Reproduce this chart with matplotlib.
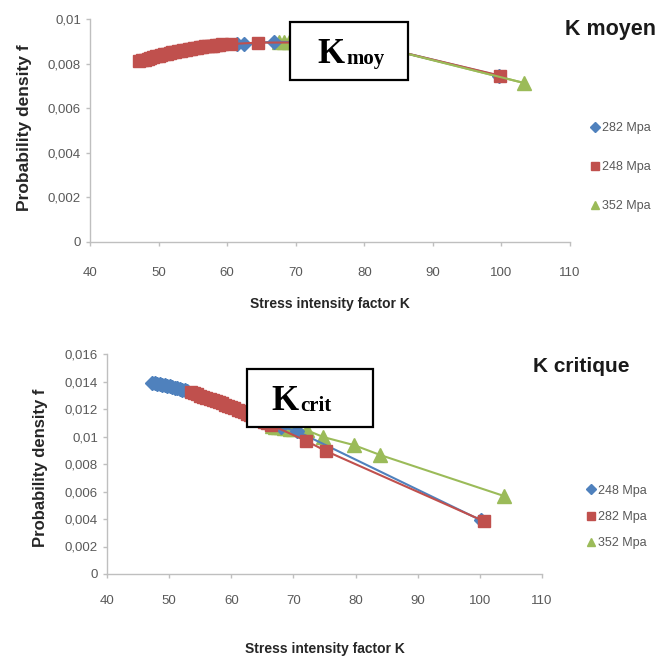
import matplotlib
matplotlib.use("Agg")
import matplotlib.pyplot as plt
from matplotlib.lines import Line2D
from matplotlib.patches import Rectangle
from matplotlib.ticker import FuncFormatter

plt.rcParams['font.family'] = ['Liberation Sans Narrow', 'Liberation Sans', 'DejaVu Sans']

# ---------------- data: top chart (K moyen) ----------------
top_282_K = [61.4, 62.4, 66.8, 72.0, 75.0, 80.3, 83.7, 99.6]
top_282_f = [0.00888, 0.00890, 0.00898, 0.00895, 0.00890, 0.00878, 0.00864, 0.00746]
top_248_K = [47.2, 47.6, 48.0, 48.4, 48.8, 49.2, 49.6, 50.0, 50.4, 50.8, 51.2, 51.6,
             52.0, 52.4, 52.8, 53.2, 53.6, 54.0, 54.4, 54.8, 55.2, 55.6, 56.0, 56.4,
             56.8, 57.2, 57.6, 58.0, 58.4, 58.8, 59.2, 60.6, 64.5, 72.0, 75.0, 80.3,
             83.7, 99.8]
top_248_f = [0.00810, 0.00814, 0.00818, 0.00822, 0.00826, 0.00829, 0.00833, 0.00836,
             0.00839, 0.00842, 0.00845, 0.00848, 0.00851, 0.00853, 0.00856, 0.00858,
             0.00861, 0.00863, 0.00865, 0.00867, 0.00869, 0.00871, 0.00873, 0.00875,
             0.00877, 0.00878, 0.00880, 0.00881, 0.00883, 0.00884, 0.00886, 0.00888,
             0.00894, 0.00895, 0.00890, 0.00878, 0.00864, 0.00746]
top_352_K = [67.6, 68.3, 69.0, 69.7, 72.0, 75.0, 80.3, 83.7, 103.3]
top_352_f = [0.00899, 0.00899, 0.00898, 0.00897, 0.00895, 0.00890, 0.00878, 0.00864, 0.00713]

# ---------------- data: bottom chart (K critique) ----------------
bot_248_K = [47.3, 47.7, 48.1, 48.5, 48.9, 49.3, 49.7, 50.1, 50.5, 50.9, 51.3, 51.7,
             52.1, 52.5, 52.9, 56.0, 60.0, 64.0, 68.0, 70.5, 100.2]
bot_248_f = [0.01389, 0.01386, 0.01383, 0.01380, 0.01376, 0.01372, 0.01368, 0.01364,
             0.01360, 0.01355, 0.01350, 0.01345, 0.01340, 0.01335, 0.01329, 0.01280,
             0.01215, 0.01140, 0.01070, 0.01040, 0.00390]
bot_282_K = [53.5, 54.0, 54.5, 55.0, 55.5, 56.0, 56.5, 57.0, 57.5, 58.0, 58.5, 59.0,
             59.5, 60.0, 60.5, 61.0, 61.5, 62.0, 62.5, 63.0, 63.5, 64.0, 64.6, 65.2,
             65.8, 66.4, 72.1, 75.2, 100.6]
bot_282_f = [0.01322, 0.01314, 0.01306, 0.01298, 0.01290, 0.01282, 0.01274, 0.01266,
             0.01258, 0.01250, 0.01241, 0.01232, 0.01223, 0.01214, 0.01205, 0.01195,
             0.01185, 0.01175, 0.01165, 0.01155, 0.01144, 0.01133, 0.01121, 0.01108,
             0.01096, 0.01084, 0.00967, 0.00895, 0.00385]
bot_352_K = [66.5, 67.0, 67.5, 68.0, 68.5, 69.0, 69.5, 70.0, 72.2, 74.8, 79.7, 84.0, 103.9]
bot_352_f = [0.01075, 0.01072, 0.01069, 0.01066, 0.01063, 0.01060, 0.01057, 0.01054,
             0.01045, 0.00996, 0.00938, 0.00865, 0.00567]

x_ticks = [40, 50, 60, 70, 80, 90, 100, 110]
top_y_ticks = [0, 0.002, 0.004, 0.006, 0.008, 0.01]
bot_y_ticks = [0, 0.002, 0.004, 0.006, 0.008, 0.01, 0.012, 0.014, 0.016]

BLUE = '#4F81BD'
RED = '#C0504D'
GREEN = '#9BBB59'
GRAY = '#595959'

W = H = 660
fig = plt.figure(figsize=(6.6, 6.6), dpi=100)
fig.patch.set_facecolor('white')


def px_axes(left, top, right, bottom):
    return fig.add_axes([left / W, 1 - bottom / H, (right - left) / W, (bottom - top) / H])


def comma_fmt(v, pos):
    if abs(v) < 1e-12:
        return '0'
    s = ('%.3f' % v).rstrip('0').rstrip('.')
    return s.replace('.', ',')


def style_axes(ax, yticks, ymax, xpad):
    ax.set_xlim(40, 110)
    ax.set_ylim(0, ymax)
    ax.set_xticks(x_ticks)
    ax.set_yticks(yticks)
    ax.yaxis.set_major_formatter(FuncFormatter(comma_fmt))
    for s in ['top', 'right']:
        ax.spines[s].set_visible(False)
    for s in ['left', 'bottom']:
        ax.spines[s].set_color('#BFBFBF')
        ax.spines[s].set_linewidth(1.0)
    ax.tick_params(axis='both', colors='#BFBFBF', length=3, width=1,
                   labelcolor=GRAY, labelsize=9.5)
    ax.tick_params(axis='x', pad=xpad)
    ax.set_facecolor('white')


MS = 8.5
SERIF = ['Liberation Serif', 'DejaVu Serif']

# ---------------- top chart ----------------
ax1 = px_axes(90, 19, 570, 242)
style_axes(ax1, top_y_ticks, 0.01, 15)
ax1.plot(top_352_K, top_352_f, color=GREEN, lw=1.5, marker='^', ms=MS + 1, zorder=2)
ax1.plot(top_282_K, top_282_f, color=BLUE, lw=1.5, marker='D', ms=MS - 1, zorder=3)
ax1.plot(top_248_K, top_248_f, color=RED, lw=1.5, marker='s', ms=MS, zorder=4)
ax1.plot(top_352_K[4:], top_352_f[4:], color=GREEN, lw=1.5, zorder=5)
ax1.set_ylabel('Probability density f', fontsize=12.5, fontweight='bold', color='#262626')
ax1.yaxis.set_label_coords((32 - 90) / 480, (242 - 127.5) / 223)
ax1.set_xlabel('Stress intensity factor K', fontsize=10, fontweight='bold', color='#262626', labelpad=13)

h1 = [Line2D([], [], ls='none', marker='D', ms=5, color=BLUE),
      Line2D([], [], ls='none', marker='s', ms=6, color=RED),
      Line2D([], [], ls='none', marker='^', ms=6, color=GREEN)]
fig.legend(h1, ['282 Mpa', '248 Mpa', '352 Mpa'], loc='center left',
           bbox_to_anchor=(580 / W, 1 - 167 / H), frameon=False, fontsize=9,
           labelspacing=2.15, handlelength=0.6, handletextpad=0.3, labelcolor=GRAY)

fig.text(565 / W, 1 - 35 / H, 'K moyen', fontsize=15.5, fontweight='bold',
         color='#1a1a1a', va='baseline', ha='left')

# K moy box
fig.add_artist(Rectangle((290 / W, 1 - 80 / H), 118 / W, 58 / H, transform=fig.transFigure,
                         fill=True, facecolor='white', edgecolor='black', lw=1.6, zorder=10))
fig.text(345 / W, 1 - 63 / H, 'K', family=SERIF,
         fontsize=25, fontweight='bold', va='baseline', ha='right', zorder=11)
fig.text(346 / W, 1 - 64 / H, 'moy', family=SERIF,
         fontsize=15, fontweight='bold', va='baseline', ha='left', zorder=11)

# ---------------- bottom chart ----------------
ax2 = px_axes(107, 354, 542, 574)
style_axes(ax2, bot_y_ticks, 0.016, 12)
ax2.plot(bot_352_K, bot_352_f, color=GREEN, lw=1.5, marker='^', ms=MS + 1, zorder=2)
ax2.plot(bot_248_K, bot_248_f, color=BLUE, lw=1.5, marker='D', ms=MS - 1, zorder=3)
ax2.plot(bot_282_K, bot_282_f, color=RED, lw=1.5, marker='s', ms=MS, zorder=4)
ax2.set_ylabel('Probability density f', fontsize=12, fontweight='bold', color='#262626')
ax2.yaxis.set_label_coords((48 - 107) / 435, (574 - 468) / 220)
ax2.set_xlabel('Stress intensity factor K', fontsize=10, fontweight='bold', color='#262626', labelpad=25)

h2 = [Line2D([], [], ls='none', marker='D', ms=5, color=BLUE),
      Line2D([], [], ls='none', marker='s', ms=6, color=RED),
      Line2D([], [], ls='none', marker='^', ms=6, color=GREEN)]
fig.legend(h2, ['248 Mpa', '282 Mpa', '352 Mpa'], loc='center left',
           bbox_to_anchor=(576 / W, 1 - 517 / H), frameon=False, fontsize=9,
           labelspacing=1.15, handlelength=0.6, handletextpad=0.3, labelcolor=GRAY)

fig.text(533 / W, 1 - 372 / H, 'K critique', fontsize=15, fontweight='bold',
         color='#1a1a1a', va='baseline', ha='left')

fig.add_artist(Rectangle((247 / W, 1 - 427 / H), 126 / W, 58 / H, transform=fig.transFigure,
                         fill=True, facecolor='white', edgecolor='black', lw=1.6, zorder=10))
fig.text(299 / W, 1 - 410 / H, 'K', family=SERIF,
         fontsize=25, fontweight='bold', va='baseline', ha='right', zorder=11)
fig.text(300 / W, 1 - 411 / H, 'crit', family=SERIF,
         fontsize=15, fontweight='bold', va='baseline', ha='left', zorder=11)

fig.savefig('out.png', dpi=100, facecolor='white')
